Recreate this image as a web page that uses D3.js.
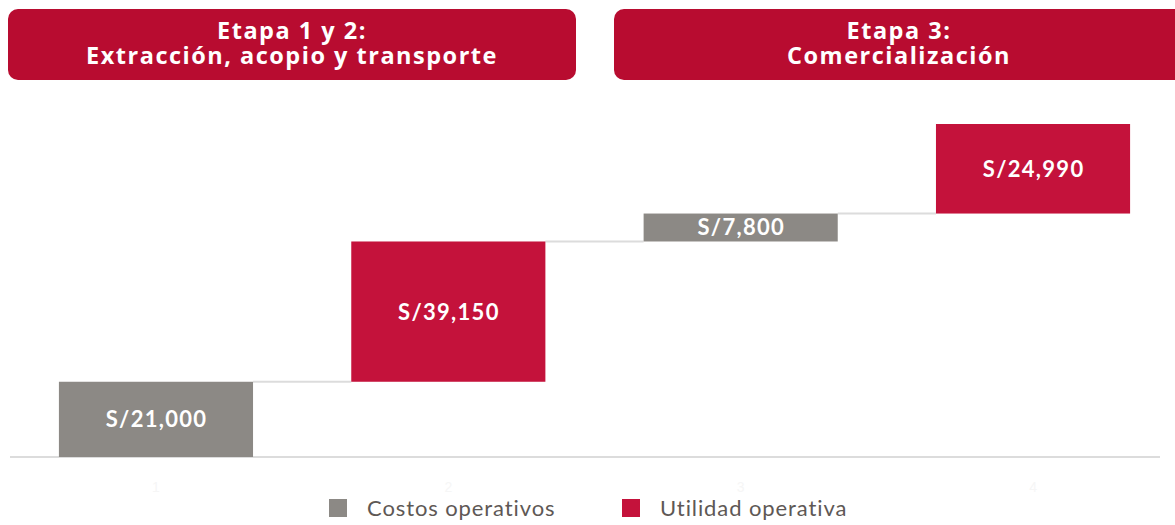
<!DOCTYPE html>
<html>
<head>
<meta charset="utf-8">
<script src="https://cdn.jsdelivr.net/npm/d3@7"></script>
<style>
  body { margin: 0; background: #fff; }
  svg { display: block; font-family: Lato, "Open Sans", sans-serif; }
</style>
</head>
<body>
<div id="chart"></div>
<script>
// ----------- Data ----------
var stages = ["1", "2", "3", "4"];
var kinds = ["Costos operativos", "Utilidad operativa", "Costos operativos", "Utilidad operativa"];
var values = [21000, 39150, 7800, 24990];
var legendItems = ["Costos operativos", "Utilidad operativa"];
var headerLines = [
  ["Etapa 1 y 2:", "Extracción, acopio y transporte"],
  ["Etapa 3:", "Comercialización"]
];

var width = 1175, height = 525;
var colors = { "Costos operativos": "#8c8985", "Utilidad operativa": "#c4123b" };

var svg = d3.select("#chart")
  .append("svg")
  .attr("width", width)
  .attr("height", height);

// running totals for the waterfall
var starts = [], ends = [];
var total = 0;
values.forEach(function(v) {
  starts.push(total);
  total += v;
  ends.push(total);
});

// ----------- Scales ----------
var x = d3.scaleBand()
  .domain(stages)
  .range([9.8, 1179.2])
  .paddingInner(0.336)
  .paddingOuter(0.168);

var y = d3.scaleLinear()
  .domain([0, total])
  .range([457, 124]);

// ----------- Header boxes ----------
var headerBoxes = [[8, 576], [614, 1185]];
var headers = svg.append("g").selectAll("g")
  .data(headerLines)
  .enter().append("g");

headers.append("rect")
  .attr("x", function(d, i) { return headerBoxes[i][0]; })
  .attr("y", 9)
  .attr("width", function(d, i) { return headerBoxes[i][1] - headerBoxes[i][0]; })
  .attr("height", 71)
  .attr("rx", 10)
  .attr("fill", "#b80c30");

// one text per line, tight leading like the original
headers.each(function(lines, i) {
  d3.select(this).selectAll("text.hdr")
    .data(lines)
    .enter().append("text")
    .attr("class", "hdr")
    .attr("x", i == 0 ? 292 : 899)
    .attr("y", function(d, j) { return 38.5 + j * 25.5; })
    .attr("text-anchor", "middle")
    .style("font-family", "'Open Sans', sans-serif")
    .style("fill", "#fff")
    .style("font-weight", "bold")
    .style("font-size", "23.5px")
    .style("letter-spacing", "1.5px")
    .text(function(d) { return d; });
});

// ----------- Baseline and faint axis ----------
svg.append("line")
  .attr("x1", 10).attr("x2", 1160)
  .attr("y1", y(0)).attr("y2", y(0))
  .attr("stroke", "#dcdcdc")
  .attr("stroke-width", 2);

var axis = svg.append("g")
  .attr("transform", "translate(0," + (y(0) + 22) + ")")
  .call(d3.axisBottom(x).tickSize(0));
axis.select(".domain").remove();
axis.selectAll("text")
  .style("fill", "#f6f6f6")
  .style("font-size", "14px");

// ----------- Connectors ----------
svg.append("g").selectAll("line")
  .data(stages.slice(0, -1))
  .enter().append("line")
  .attr("x1", function(d) { return x(d) + x.bandwidth(); })
  .attr("x2", function(d, i) { return x(stages[i + 1]); })
  .attr("y1", function(d, i) { return y(ends[i]); })
  .attr("y2", function(d, i) { return y(ends[i]); })
  .attr("stroke", "#dcdcdc")
  .attr("stroke-width", 2);

// ----------- Bars ----------
var bars = svg.append("g").selectAll("g")
  .data(stages)
  .enter().append("g");

bars.append("rect")
  .attr("x", function(d) { return x(d); })
  .attr("y", function(d, i) { return y(ends[i]); })
  .attr("width", x.bandwidth())
  .attr("height", function(d, i) { return y(starts[i]) - y(ends[i]); })
  .attr("fill", function(d, i) { return colors[kinds[i]]; });

bars.append("text")
  .attr("x", function(d) { return x(d) + x.bandwidth() / 2 + 0.6; })
  .attr("y", function(d, i) { return (y(starts[i]) + y(ends[i])) / 2; })
  .attr("dy", "0.36em")
  .attr("text-anchor", "middle")
  .style("fill", "#fff")
  .style("font-weight", "bold")
  .style("font-size", "22px")
  .style("letter-spacing", "1.3px")
  .text(function(d, i) { return "S/" + d3.format(",")(values[i]); });

// ----------- Legend ----------
var legendX = [329, 622];
var legend = svg.append("g").selectAll("g")
  .data(legendItems)
  .enter().append("g")
  .attr("transform", function(d, i) { return "translate(" + legendX[i] + ",499)"; });

legend.append("rect")
  .attr("width", 18)
  .attr("height", 18)
  .attr("fill", function(d) { return colors[d]; });

legend.append("text")
  .attr("x", 38)
  .attr("y", 9)
  .attr("dy", "0.36em")
  .style("fill", "#5e5855")
  .style("font-size", "22px")
  .style("letter-spacing", "0.9px")
  .text(function(d) { return d; });
</script>
</body>
</html>
